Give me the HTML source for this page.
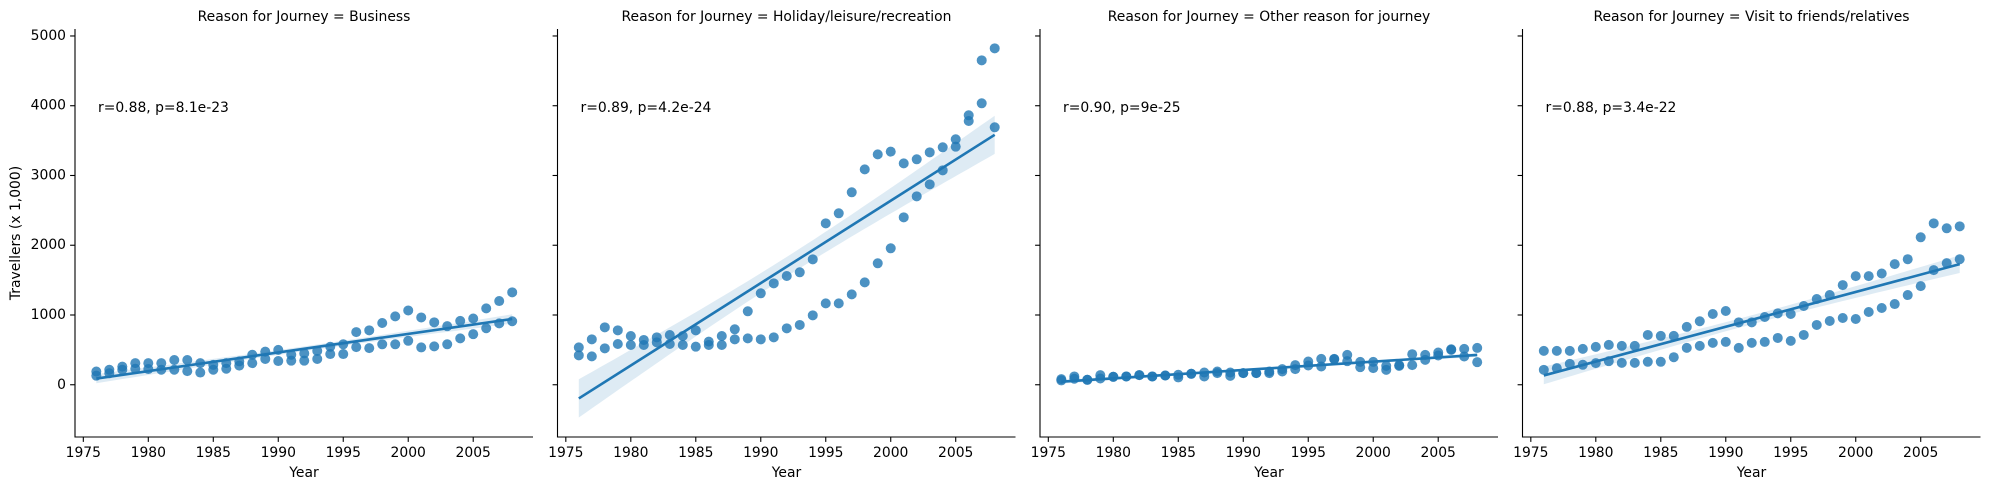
<!DOCTYPE html>
<html><head><meta charset="utf-8">
<style>
html,body{margin:0;padding:0;background:#fff;}
svg{display:block;font-family:"DejaVu Sans","Liberation Sans",sans-serif;}
</style></head>
<body>
<svg id="chart" width="1990" height="490" viewBox="0 0 1990 490" xmlns="http://www.w3.org/2000/svg"></svg>
<script>
// ---- data ----
const years = [];
for (let y = 1976; y <= 2008; y++) years.push(y);
const panelTitles = ["Reason for Journey = Business","Reason for Journey = Holiday/leisure/recreation","Reason for Journey = Other reason for journey","Reason for Journey = Visit to friends/relatives"];
const statLabels = ["r=0.88, p=8.1e-23","r=0.89, p=4.2e-24","r=0.90, p=9e-25","r=0.88, p=3.4e-22"];
const businessA = [190,215,260,310,310,310,355,355,310,285,310,335,430,475,500,430,450,485,545,580,755,780,885,980,1065,965,895,840,915,950,1095,1200,1325];
const businessB = [130,165,215,230,225,215,215,195,175,215,230,275,310,370,340,345,345,370,440,440,540,525,580,580,630,535,550,580,665,725,810,880,910];
const holidayA = [536,651,823,780,699,642,680,713,699,780,618,699,795,1053,1311,1454,1559,1612,1798,2314,2458,2759,3088,3303,3342,3174,3232,3332,3404,3519,3863,4651,4823];
const holidayB = [422,407,522,584,570,570,608,584,570,546,570,570,651,665,651,680,809,857,995,1167,1167,1296,1468,1741,1956,2400,2701,2873,3074,3413,3781,4035,3691];
const otherA = [81,119,71,138,114,119,138,119,133,143,157,176,190,176,167,167,190,224,281,333,371,371,428,328,328,271,281,438,428,462,509,514,528];
const otherB = [62,86,71,90,114,119,138,119,133,105,157,119,167,128,167,167,167,190,224,276,262,366,338,252,238,214,271,281,357,419,500,405,324];
const visitA = [486,486,486,514,543,571,557,557,714,700,700,829,910,1014,1057,895,895,971,1024,1014,1129,1229,1286,1429,1557,1557,1595,1729,1800,2114,2314,2243,2271];
const visitB = [214,238,300,286,310,338,314,314,329,329,395,529,557,600,614,529,600,614,671,629,714,857,914,957,943,1043,1100,1157,1286,1414,1643,1743,1800];
const seriesA = [businessA, holidayA, otherA, visitA];
const seriesB = [businessB, holidayB, otherB, visitB];
const yTicks = [0,1000,2000,3000,4000,5000];
const xTicks = [1975,1980,1985,1990,1995,2000,2005];

// ---- layout ----
const NS = "http://www.w3.org/2000/svg";
const svg = document.getElementById("chart");
const panelLefts = [75, 557.5, 1040, 1522.5];
const axW = 458, axTop = 29, axBottom = 437;
const yMin = -749, yMax = 5100;
const xMin = 1974.36, xMax = 2009.6;
const color = "#1f77b4";
function yScale(v){ return axBottom - (v - yMin) / (yMax - yMin) * (axBottom - axTop); }
function xScale(left, yr){ return left + (yr - xMin) / (xMax - xMin) * axW; }
function el(tag, attrs, parent){
  const e = document.createElementNS(NS, tag);
  for (const k in attrs) e.setAttribute(k, attrs[k]);
  (parent || svg).appendChild(e);
  return e;
}

// y-axis label
const yl = el("text", {x: 16, y: (axTop+axBottom)/2, "font-size": 13.9, "text-anchor": "middle", "dominant-baseline": "middle", transform: "rotate(-90 16 " + ((axTop+axBottom)/2) + ")", fill: "#000"});


yl.textContent = "Travellers (x 1,000)";

for (let p = 0; p < 4; p++) {
  const L = panelLefts[p];
  const g = el("g", {});
  
  

  // regression
  const xs = [], ys = [];
  for (let i = 0; i < years.length; i++) { xs.push(years[i]); ys.push(seriesA[p][i]); xs.push(years[i]); ys.push(seriesB[p][i]); }
  const n = xs.length;
  const mx = xs.reduce((a,b)=>a+b,0)/n, my = ys.reduce((a,b)=>a+b,0)/n;
  let sxx = 0, sxy = 0;
  for (let i = 0; i < n; i++) { sxx += (xs[i]-mx)**2; sxy += (xs[i]-mx)*(ys[i]-my); }
  const b = sxy/sxx, a = my - b*mx;
  let sse = 0;
  for (let i = 0; i < n; i++) sse += (ys[i] - (a + b*xs[i]))**2;
  const s = Math.sqrt(sse/(n-2)), t = 1.998;
  const x0 = years[0], x1 = years[years.length-1];
  let up = [], lo = [];
  for (let k = 0; k <= 60; k++) {
    const xv = x0 + (x1-x0)*k/60;
    const fit = a + b*xv;
    const se = s*Math.sqrt(1/n + (xv-mx)**2/sxx);
    up.push(xScale(L,xv).toFixed(1)+","+yScale(fit+t*se).toFixed(1));
    lo.unshift(xScale(L,xv).toFixed(1)+","+yScale(fit-t*se).toFixed(1));
  }
  const band = el("polygon", {points: up.concat(lo).join(" "), fill: color, "fill-opacity": 0.15, stroke: "none"}, g);
  
  

  // points
  for (let i = 0; i < years.length; i++) {
    for (const arr of [seriesA[p], seriesB[p]]) {
      const c = el("circle", {cx: xScale(L, years[i]), cy: yScale(arr[i]), r: 5, fill: color, "fill-opacity": 0.8}, g);
      
      
    }
  }
  const line = el("line", {x1: xScale(L,x0), y1: yScale(a+b*x0), x2: xScale(L,x1), y2: yScale(a+b*x1), stroke: color, "stroke-width": 2.6}, g);
  
  

  // spines
  const sp = el("path", {d: "M"+L+","+axTop+" V"+axBottom+" H"+(L+axW), stroke: "#000", "stroke-width": 1.1, fill: "none"}, g);
  
  

  for (const v of yTicks) {
    const yy = yScale(v);
    const tk = el("line", {x1: L-4.9, y1: yy, x2: L, y2: yy, stroke: "#000", "stroke-width": 1.1}, g);
    
    
    if (p === 0) {
      const tl = el("text", {x: L-9, y: yy, "font-size": 13.9, "text-anchor": "end", "dominant-baseline": "middle", fill: "#000"}, g);
      
      
      tl.textContent = v;
    }
  }
  for (const v of xTicks) {
    const xx = xScale(L, v);
    const tk = el("line", {x1: xx, y1: axBottom, x2: xx, y2: axBottom+4.9, stroke: "#000", "stroke-width": 1.1}, g);
    
    
    const tl = el("text", {x: xx, y: axBottom+20, "font-size": 13.9, "text-anchor": "middle", fill: "#000"}, g);
    
    
    tl.textContent = v;
  }
  const xl = el("text", {x: L+axW/2, y: 477, "font-size": 13.9, "text-anchor": "middle", fill: "#000"}, g);
  
  
  xl.textContent = "Year";

  const ti = el("text", {x: L+axW/2, y: 21, "font-size": 13.9, "text-anchor": "middle", fill: "#000"}, g);
  
  
  ti.textContent = panelTitles[p];

  const st = el("text", {x: L+23, y: 112, "font-size": 13.9, fill: "#000"}, g);
  
  
  st.textContent = statLabels[p];
}
</script>
</body></html>
